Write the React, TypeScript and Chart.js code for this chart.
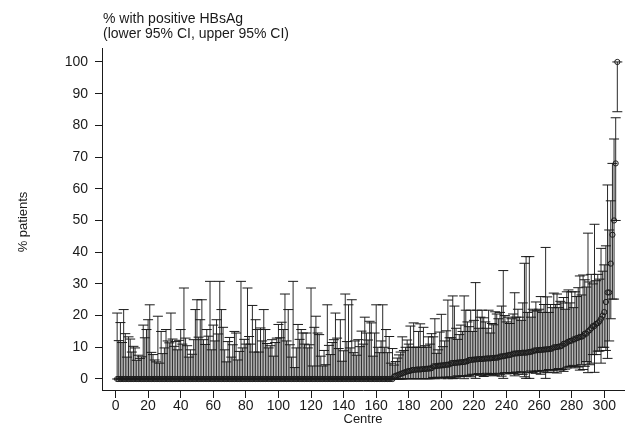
import React, { useEffect, useRef } from "react";
import { Chart, registerables } from "chart.js";

Chart.register(...registerables);

const titleLines = ["% with positive HBsAg", "(lower 95% CI, upper 95% CI)"];
const yAxisTitle = "% patients";
const xAxisTitle = "Centre";
const xTickValues = [0, 20, 40, 60, 80, 100, 120, 140, 160, 180, 200, 220, 240, 260, 280, 300];
const yTickValues = [0, 10, 20, 30, 40, 50, 60, 70, 80, 90, 100];

// point estimate (% positive HBsAg) per centre, centres ranked 1..308
const centreEstimate = [
  0, 0, 0, 0, 0, 0, 0, 0, 0, 0,
  0, 0, 0, 0, 0, 0, 0, 0, 0, 0,
  0, 0, 0, 0, 0, 0, 0, 0, 0, 0,
  0, 0, 0, 0, 0, 0, 0, 0, 0, 0,
  0, 0, 0, 0, 0, 0, 0, 0, 0, 0,
  0, 0, 0, 0, 0, 0, 0, 0, 0, 0,
  0, 0, 0, 0, 0, 0, 0, 0, 0, 0,
  0, 0, 0, 0, 0, 0, 0, 0, 0, 0,
  0, 0, 0, 0, 0, 0, 0, 0, 0, 0,
  0, 0, 0, 0, 0, 0, 0, 0, 0, 0,
  0, 0, 0, 0, 0, 0, 0, 0, 0, 0,
  0, 0, 0, 0, 0, 0, 0, 0, 0, 0,
  0, 0, 0, 0, 0, 0, 0, 0, 0, 0,
  0, 0, 0, 0, 0, 0, 0, 0, 0, 0,
  0, 0, 0, 0, 0, 0, 0, 0, 0, 0,
  0, 0, 0, 0, 0, 0, 0, 0, 0, 0,
  0, 0, 0, 0, 0, 0, 0, 0, 0, 0,
  0.8, 1.0, 1.2, 1.4, 1.6, 1.8, 2.0, 2.2, 2.4, 2.5,
  2.6, 2.8, 2.9, 2.9, 3.0, 3.0, 3.0, 3.1, 3.1, 3.2,
  3.2, 3.3, 3.3, 3.4, 4.0, 4.0, 4.1, 4.2, 4.2, 4.3,
  4.3, 4.4, 4.5, 4.5, 4.6, 5.0, 5.0, 5.1, 5.1, 5.2,
  5.2, 5.3, 5.3, 5.4, 5.5, 5.6, 6.0, 6.0, 6.1, 6.1,
  6.2, 6.2, 6.3, 6.3, 6.3, 6.4, 6.4, 6.5, 6.5, 6.5,
  6.6, 6.6, 6.7, 6.7, 6.8, 7.1, 7.1, 7.2, 7.3, 7.4,
  7.5, 7.6, 7.7, 8.0, 8.0, 8.1, 8.1, 8.2, 8.2, 8.3,
  8.3, 8.3, 8.4, 8.5, 8.6, 8.7, 9.0, 9.0, 9.1, 9.1,
  9.2, 9.2, 9.3, 9.3, 9.4, 9.4, 9.5, 9.6, 10.0, 10.0,
  10.1, 10.2, 10.3, 10.5, 11.1, 11.1, 11.5, 11.8, 12.0, 12.1,
  12.5, 12.5, 12.9, 13.0, 13.3, 13.3, 13.6, 14.3, 14.3, 15.0,
  15.4, 16.0, 16.7, 16.7, 17.4, 17.6, 18.2, 19.0, 20.0, 21.1,
  24.3, 27.3, 27.3, 36.4, 45.5, 50.0, 68.0, 100,
];

// lower 95% CI
const centreLower = [
  0, 0, 0, 0, 0, 0, 0, 0, 0, 0,
  0, 0, 0, 0, 0, 0, 0, 0, 0, 0,
  0, 0, 0, 0, 0, 0, 0, 0, 0, 0,
  0, 0, 0, 0, 0, 0, 0, 0, 0, 0,
  0, 0, 0, 0, 0, 0, 0, 0, 0, 0,
  0, 0, 0, 0, 0, 0, 0, 0, 0, 0,
  0, 0, 0, 0, 0, 0, 0, 0, 0, 0,
  0, 0, 0, 0, 0, 0, 0, 0, 0, 0,
  0, 0, 0, 0, 0, 0, 0, 0, 0, 0,
  0, 0, 0, 0, 0, 0, 0, 0, 0, 0,
  0, 0, 0, 0, 0, 0, 0, 0, 0, 0,
  0, 0, 0, 0, 0, 0, 0, 0, 0, 0,
  0, 0, 0, 0, 0, 0, 0, 0, 0, 0,
  0, 0, 0, 0, 0, 0, 0, 0, 0, 0,
  0, 0, 0, 0, 0, 0, 0, 0, 0, 0,
  0, 0, 0, 0, 0, 0, 0, 0, 0, 0,
  0, 0, 0, 0, 0, 0, 0, 0, 0, 0,
  0.0, 0.0, 0.0, 0.0, 0.0, 0.0, 0.1, 0.1, 0.1, 0.1,
  0.1, 0.1, 0.1, 0.1, 0.1, 0.1, 0.1, 0.1, 0.1, 0.1,
  0.1, 0.1, 0.1, 0.1, 0.5, 0.1, 0.5, 0.5, 0.5, 0.1,
  0.5, 0.5, 0.6, 0.1, 0.6, 0.6, 0.1, 0.2, 0.6, 1.0,
  0.7, 0.8, 1.0, 0.1, 0.9, 1.0, 1.2, 0.7, 1.5, 1.3,
  0.2, 1.5, 1.7, 1.2, 1.3, 0.8, 1.0, 1.8, 1.4, 1.7,
  1.5, 1.2, 1.0, 1.6, 1.8, 1.5, 0.9, 0.2, 2.0, 1.6,
  2.0, 1.8, 2.0, 1.7, 1.0, 2.2, 1.5, 2.0, 2.3, 1.5,
  0.7, 0.2, 2.0, 0.2, 2.5, 2.0, 2.4, 1.8, 2.5, 2.5,
  1.5, 2.7, 2.2, 0.2, 2.0, 3.0, 2.6, 2.8, 2.1, 3.0,
  1.9, 3.3, 2.8, 3.0, 2.4, 3.1, 3.5, 3.8, 4.0, 4.0,
  4.3, 3.5, 4.0, 3.8, 2.8, 4.5, 3.0, 4.0, 5.5, 2.0,
  4.5, 5.0, 7.7, 2.1, 7.7, 8.8, 8.8, 5.0, 10.0, 10.0,
  9.0, 6.5, 12.0, 19.0, 25.2, 25.2, 50.0, 84.3,
];

// upper 95% CI
const centreUpper = [
  20.8, 12.1, 17.8, 11.5, 21.9, 14.3, 6.9, 13.3, 12.6, 8.5,
  10.3, 9.8, 5.9, 7.5, 6.5, 7.0, 17.0, 13.0, 15.6, 18.7,
  23.4, 8.4, 7.7, 6.0, 5.4, 19.8, 5.0, 15.0, 8.0, 9.8,
  15.6, 12.0, 11.4, 20.8, 12.6, 10.3, 11.8, 9.2, 12.2, 15.6,
  11.0, 28.7, 12.9, 10.5, 6.9, 9.2, 7.8, 12.4, 21.9, 25.0,
  13.2, 18.7, 25.0, 12.4, 10.9, 15.6, 13.5, 30.8, 9.2, 17.0,
  12.0, 18.7, 14.2, 30.8, 21.9, 16.3, 9.2, 5.4, 11.8, 13.1,
  6.9, 10.8, 15.0, 14.5, 6.0, 8.7, 30.8, 9.8, 12.5, 11.0,
  28.7, 13.4, 11.0, 23.2, 8.5, 18.7, 15.6, 8.5, 16.1, 12.0,
  21.9, 15.6, 11.2, 9.8, 10.5, 12.4, 7.2, 11.5, 12.9, 17.2,
  13.0, 17.9, 15.6, 26.8, 12.0, 21.9, 10.8, 6.9, 30.8, 3.6,
  9.8, 17.2, 12.5, 15.6, 14.5, 11.0, 14.5, 9.8, 10.8, 28.7,
  4.1, 16.3, 19.8, 14.5, 14.0, 7.2, 4.1, 9.0, 4.5, 23.4,
  10.6, 7.7, 11.5, 12.4, 20.8, 12.9, 9.6, 18.7, 5.6, 8.9,
  26.8, 11.8, 23.4, 9.8, 25.0, 8.3, 12.0, 7.5, 12.4, 10.2,
  15.1, 11.0, 19.5, 14.5, 12.3, 18.2, 17.7, 7.2, 14.5, 23.4,
  10.0, 8.3, 12.0, 23.4, 10.0, 15.6, 8.3, 13.4, 5.0, 9.6,
  4.4, 5.5, 6.6, 7.6, 8.5, 13.3, 9.0, 10.0, 12.3, 11.0,
  16.7, 10.0, 17.7, 10.0, 10.0, 15.0, 17.4, 10.0, 16.3, 10.5,
  10.0, 13.3, 11.0, 14.3, 13.3, 19.0, 8.1, 9.2, 14.8, 20.4,
  10.2, 12.0, 15.2, 24.9, 13.0, 13.0, 26.2, 23.0, 16.0, 12.5,
  14.0, 17.0, 15.0, 26.2, 21.7, 18.0, 16.5, 21.7, 15.0, 18.5,
  30.4, 21.7, 16.0, 19.5, 21.7, 19.3, 18.0, 16.0, 21.7, 14.5,
  17.5, 17.1, 21.2, 20.5, 19.0, 21.0, 23.0, 34.2, 20.0, 18.0,
  19.5, 17.5, 19.0, 20.5, 27.2, 19.5, 22.0, 19.5, 18.5, 24.0,
  36.5, 38.6, 21.0, 38.6, 19.5, 22.0, 21.5, 24.3, 21.5, 22.0,
  26.0, 21.0, 23.5, 41.5, 25.9, 21.0, 23.5, 22.5, 27.1, 23.5,
  26.8, 22.5, 24.5, 24.0, 25.7, 22.0, 27.5, 28.1, 24.0, 27.5,
  22.5, 27.5, 26.0, 28.8, 32.5, 26.5, 32.8, 31.3, 29.0, 46.0,
  30.6, 33.0, 30.0, 48.8, 31.0, 33.0, 31.5, 41.2, 34.0, 36.0,
  42.0, 61.2, 47.0, 56.2, 68.0, 75.7, 82.4, 100,
];

const FONT = '"Liberation Sans", Arial, Helvetica, sans-serif';
const INK = "#1a1a1a";
const SPIKE = "#2a2a2a";

const textPlugin = {
  id: "stataTexts",
  afterDraw(chart: any) {
    const ctx = chart.ctx;
    const area = chart.chartArea;
    ctx.save();
    ctx.fillStyle = INK;
    ctx.textAlign = "left";
    ctx.textBaseline = "alphabetic";
    ctx.font = `14px ${FONT}`;
    ctx.fillText(titleLines[0], area.left + 1, 23);
    ctx.fillText(titleLines[1], area.left + 1, 38);
    ctx.font = `13px ${FONT}`;
    ctx.textAlign = "center";
    ctx.fillText(xAxisTitle, (area.left + area.right) / 2, 423);
    ctx.translate(27, (area.top + area.bottom) / 2 + 3);
    ctx.rotate(-Math.PI / 2);
    ctx.fillText(yAxisTitle, 0, 0);
    ctx.restore();
  },
};

export default function App() {
  const canvasRef = useRef<HTMLCanvasElement | null>(null);

  useEffect(() => {
    const canvas = canvasRef.current;
    if (!canvas) return;
    const centres = centreEstimate.map((_, i) => i + 1);

    const spikeData: any[] = [];
    const capData: any[] = [];
    const estData: any[] = [];
    centres.forEach((c, i) => {
      spikeData.push({ x: c, y: centreLower[i] });
      spikeData.push({ x: c, y: centreUpper[i] });
      spikeData.push({ x: c, y: null });
      capData.push({ x: c, y: centreLower[i] });
      capData.push({ x: c, y: centreUpper[i] });
      estData.push({ x: c, y: centreEstimate[i] });
    });

    const chart = new Chart(canvas, {
      type: "scatter",
      data: {
        datasets: [
          {
            label: "estimate",
            data: estData,
            pointStyle: "circle",
            pointRadius: 2.6,
            pointBorderWidth: 1,
            pointBorderColor: INK,
            pointBackgroundColor: "rgba(0,0,0,0)",
            showLine: false,
            order: 0,
          } as any,
          {
            label: "caps",
            data: capData,
            pointStyle: "line",
            pointRadius: 5,
            pointBorderWidth: 1,
            pointBorderColor: INK,
            showLine: false,
            order: 1,
          } as any,
          {
            label: "ci",
            data: spikeData,
            showLine: true,
            spanGaps: false,
            borderColor: SPIKE,
            borderWidth: 1,
            pointRadius: 0,
            order: 2,
          } as any,
        ],
      },
      options: {
        responsive: false,
        animation: false,
        devicePixelRatio: 1,
        layout: { padding: { top: 48, left: 0, right: 0, bottom: 0 } },
        plugins: {
          legend: { display: false },
          tooltip: { enabled: false },
          title: { display: false },
        },
        events: [],
        scales: {
          x: {
            type: "linear",
            position: "bottom",
            min: -8.3,
            max: 312.1,
            grid: {
              display: true,
              drawOnChartArea: false,
              drawTicks: true,
              tickLength: 8,
              color: INK,
              lineWidth: 1,
            },
            border: { display: true, color: INK, width: 1 },
            ticks: {
              color: INK,
              font: { family: FONT, size: 14 },
              padding: 0,
              maxRotation: 0,
              autoSkip: false,
            },
            afterBuildTicks: (s: any) => {
              s.ticks = xTickValues.map((v) => ({ value: v }));
            },
            afterFit: (s: any) => {
              s.height = 35;
            },
          },
          y: {
            type: "linear",
            position: "left",
            min: -3.47,
            max: 104.4,
            grid: {
              display: true,
              drawOnChartArea: false,
              drawTicks: true,
              tickLength: 7,
              color: INK,
              lineWidth: 1,
            },
            border: { display: true, color: INK, width: 1 },
            ticks: {
              color: INK,
              font: { family: FONT, size: 14 },
              padding: 7,
              autoSkip: false,
            },
            afterBuildTicks: (s: any) => {
              s.ticks = yTickValues.map((v) => ({ value: v }));
            },
            afterFit: (s: any) => {
              s.width = 102;
            },
          },
        },
      } as any,
      plugins: [textPlugin],
    });
    return () => chart.destroy();
  }, []);

  return (
    <div style={{ position: "fixed", left: 0, top: 0, width: 630, height: 425, background: "#fff" }}>
      <canvas ref={canvasRef} width={630} height={425} style={{ display: "block" }} />
    </div>
  );
}
